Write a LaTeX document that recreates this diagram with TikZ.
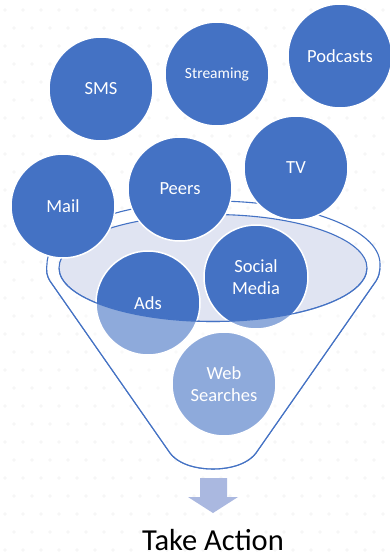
\documentclass[tikz,border=0pt]{standalone}
\usepackage{fontspec}
\setmainfont{Carlito}
\usetikzlibrary{positioning}
\definecolor{chanblue}{HTML}{4472C4}
\definecolor{rimfill}{HTML}{E0E4F2}
\definecolor{arrowblue}{HTML}{AAB8E0}
% outline of the funnel body, rim on top
\newcommand{\funnelpath}{(47,264) arc[start angle=180,end angle=360,x radius=166.5,y radius=63]
  .. controls (380,272) and (379,276) .. (376,281) -- (256,453)
  .. controls (246,466) and (226,469) .. (213,469)
  .. controls (200,469) and (180,466) .. (170,453) -- (50,281)
  .. controls (47,276) and (46,272) .. (47,264) -- cycle}

\begin{document}
\begin{tikzpicture}
[x=1pt,y=-1pt,
 bubble/.style={circle,fill=chanblue,draw=white,line width=1.5pt,minimum size=104pt,inner sep=0pt,
   text=white,align=center,font=\fontsize{18.5}{21.5}\selectfont},
 funnel/.style={draw=chanblue,line width=1.1pt}]
\useasboundingbox (0,0) rectangle (389,555);
\fill[white] (0,0) rectangle (389,555);
% faint dots in the back
\foreach \r in {0,...,30} {
  \pgfmathsetmacro{\off}{mod(\r,2)*9}
  \foreach \c in {0,...,21}
    \fill[black!3.5] (5+\off+18*\c,10+18*\r) circle (1.8);
}
\draw[funnel] \funnelpath;
\filldraw[funnel,fill=rimfill] (213,268) ellipse[x radius=154,y radius=53.5];
% channels
\node[bubble] (sms) at (101,89) {SMS};
\node[bubble,font=\fontsize{15.5}{18}\selectfont] (streaming) at (217,74) {Streaming};
\node[bubble] (podcasts) at (340,56) {Podcasts};
\node[bubble] (tv) at (296,168) {TV};
\node[bubble] (peers) at (180,189) {Peers};
\node[bubble] (mail) at (63,206) {Mail};
\node[bubble] (ads) at (148,303) {Ads};
\node[bubble] (social) at (256,277) {Social\\Media};
\node[bubble] (web) at (224,384) {Web\\Searches};
% front of the funnel
\begin{scope}
\clip (0,268) rectangle (389,555);
\fill[white,fill opacity=0.4,even odd rule] \funnelpath (213,268) ellipse[x radius=154,y radius=53.5];
\draw[funnel] \funnelpath;
\draw[funnel] (213,268) ellipse[x radius=154,y radius=53.5];
\end{scope}
\fill[arrowblue] (200,478) -- (227,478) -- (227,497) -- (238,497) -- (213,513) -- (188,497) -- (200,497) -- cycle;
\node[anchor=base,inner sep=0pt,font=\fontsize{30.5}{34}\selectfont] (action) at (213,550) {Take Action};
\end{tikzpicture}
\end{document}
